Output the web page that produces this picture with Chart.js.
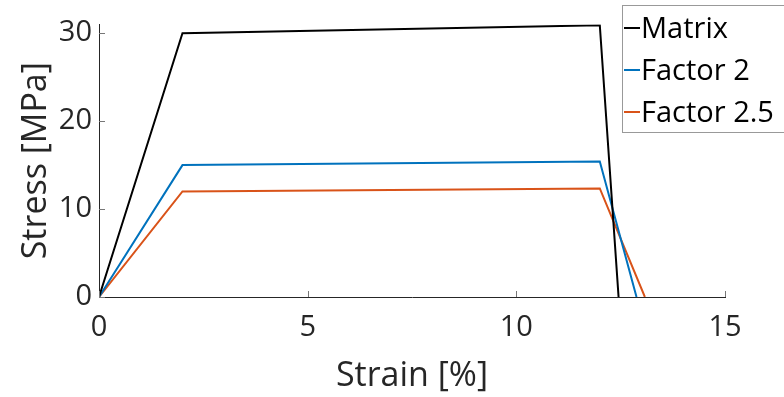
<!DOCTYPE html>
<html>
<head>
<meta charset="utf-8">
<script src="https://cdn.jsdelivr.net/npm/chart.js@4"></script>
<style>
  html, body { margin: 0; padding: 0; background: #fff; }
  #wrap { width: 784px; height: 397px; }
</style>
</head>
<body>
<div id="wrap"><canvas id="grafica"></canvas></div>
<script>
// Datos
const seriesNames = ["Matrix", "Factor 2", "Factor 2.5"];
const matrixX = [0, 2, 12, 12.45];
const matrixY = [0, 30, 30.9, 0];
const factor2X = [0, 2, 12, 12.88];
const factor2Y = [0, 15, 15.4, 0];
const factor25X = [0, 2, 12, 13.08];
const factor25Y = [0, 12, 12.35, 0];
const xTicks = [0, 5, 10, 15];
const yTicks = [0, 10, 20, 30];

const colors = ["#000000", "#0072BD", "#D95319"];
const textColor = "#262626";
const fontFamily = "'Open Sans', 'Noto Sans', sans-serif";

const toPoints = (xs, ys) => xs.map((x, i) => ({ x: x, y: ys[i] }));

// marcas de los ejes hacia dentro y leyenda tipo MATLAB
const matlabAxes = {
    id: "matlabAxes",
    afterDraw(chart) {
        const ctx = chart.ctx;
        const xs = chart.scales.x, ys = chart.scales.y;
        ctx.save();
        ctx.strokeStyle = "#777";
        ctx.lineWidth = 1;
        xTicks.forEach(v => {
            const px = Math.round(xs.getPixelForValue(v)) + 0.5;
            ctx.beginPath();
            ctx.moveTo(px, ys.bottom);
            ctx.lineTo(px, ys.bottom - 6);
            ctx.stroke();
        });
        yTicks.forEach(v => {
            const py = Math.round(ys.getPixelForValue(v)) + 0.5;
            ctx.beginPath();
            ctx.moveTo(xs.left, py);
            ctx.lineTo(xs.left + 6, py);
            ctx.stroke();
        });

        // leyenda
        const bx = 622.5, by = 5.5, bw = 170, bh = 127;
        ctx.fillStyle = "#fff";
        ctx.fillRect(bx, by, bw, bh);
        ctx.strokeStyle = "#999";
        ctx.strokeRect(bx, by, bw, bh);
        ctx.font = "29px " + fontFamily;
        ctx.textBaseline = "middle";
        ctx.textAlign = "left";
        chart.data.datasets.forEach((ds, i) => {
            const ly = 28 + i * 42;
            ctx.strokeStyle = ds.borderColor;
            ctx.lineWidth = 2;
            ctx.beginPath();
            ctx.moveTo(624, ly);
            ctx.lineTo(640, ly);
            ctx.stroke();
            ctx.fillStyle = "#000";
            ctx.fillText(ds.label, 641, ly + 2);
        });
        ctx.restore();
    }
};

const ctx = document.getElementById("grafica").getContext("2d");
new Chart(ctx, {
    type: "line",
    data: {
        datasets: [
            { label: seriesNames[0], data: toPoints(matrixX, matrixY), borderColor: colors[0] },
            { label: seriesNames[1], data: toPoints(factor2X, factor2Y), borderColor: colors[1] },
            { label: seriesNames[2], data: toPoints(factor25X, factor25Y), borderColor: colors[2] }
        ].map(d => Object.assign(d, { borderWidth: 2, pointRadius: 0, tension: 0, fill: false }))
    },
    options: {
        responsive: true,
        maintainAspectRatio: false,
        animation: false,
        layout: { padding: { top: 20, right: 59, left: 0, bottom: 0 } },
        plugins: {
            legend: { display: false },
            tooltip: { enabled: false }
        },
        scales: {
            x: {
                type: "linear",
                min: 0,
                max: 15,
                afterBuildTicks: s => { s.ticks = xTicks.map(v => ({ value: v })); },
                afterFit: s => { s.height = 100; },
                grid: { display: false, drawTicks: false },
                border: { display: true, color: textColor, width: 1 },
                ticks: { color: textColor, font: { family: fontFamily, size: 29 }, padding: 13, maxRotation: 0 },
                title: { display: true, text: "Strain [%]", color: textColor, font: { family: fontFamily, size: 34 }, padding: { top: 0, bottom: 0 } }
            },
            y: {
                min: 0,
                max: 31,
                afterBuildTicks: s => { s.ticks = yTicks.map(v => ({ value: v })); },
                afterFit: s => { s.width = 99; },
                grid: { display: false, drawTicks: false },
                border: { display: true, color: textColor, width: 1 },
                ticks: { color: textColor, font: { family: fontFamily, size: 29 }, padding: 7 },
                title: { display: true, text: "Stress [MPa]", color: textColor, font: { family: fontFamily, size: 34 }, padding: { top: 16, bottom: 0 } }
            }
        }
    },
    plugins: [matlabAxes]
});
</script>
</body>
</html>
